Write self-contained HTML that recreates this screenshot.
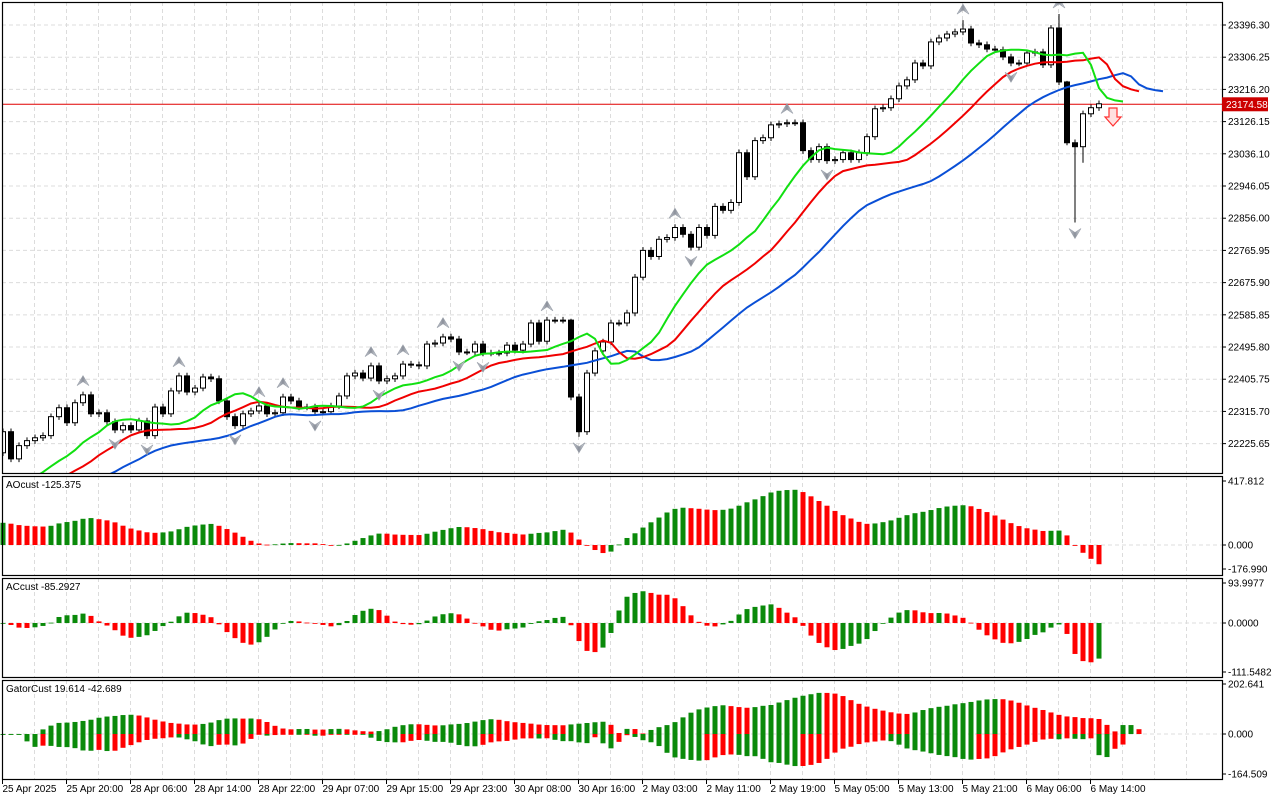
<!DOCTYPE html>
<html><head><meta charset="utf-8"><style>
html,body{margin:0;padding:0;background:#fff;}
svg{display:block;font-family:"Liberation Sans",sans-serif;}
text{font-size:10px;fill:#000;}
</style></head><body>
<svg id="chart" width="1280" height="800" viewBox="0 0 1280 800" xmlns="http://www.w3.org/2000/svg">
<defs>
<clipPath id="mainClip"><rect x="2" y="2" width="1220" height="471"/></clipPath>
<linearGradient id="fg" x1="0" y1="0" x2="1" y2="0"><stop offset="0" stop-color="#c8ccd4"/><stop offset="0.5" stop-color="#8a8f99"/><stop offset="1" stop-color="#e0e3e8"/></linearGradient>
</defs>
<g id="grid"></g>
<g id="main" clip-path="url(#mainClip)"></g>
<g id="sub"></g>
<g id="frames"></g>
<g id="axes"></g>
<text x="6" y="488">AOcust -125.375</text>
<text x="6" y="590">ACcust -85.2927</text>
<text x="6" y="692">GatorCust 19.614 -42.689</text>
</svg>
<script>
// ---- data ----
const closes=[22259,22183,22220,22234,22242,22248,22301,22326,22284,22340,22362,22309,22312,22287,22264,22276,22264,22289,22248,22328,22309,22373,22415,22370,22381,22412,22407,22345,22301,22276,22309,22317,22331,22309,22312,22356,22345,22328,22328,22315,22315,22331,22359,22415,22423,22409,22443,22401,22407,22415,22448,22446,22443,
22504,22507,22524,22518,22482,22482,22504,22479,22479,22479,22501,22487,22504,22563,22512,22571,22571,22571,22356,22259,22423,22485,22510,22563,22563,22591,22691,22766,22749,22797,22802,22830,22811,22775,22830,22808,22889,22878,22900,23039,22972,23073,23081,23117,23120,23123,23123,23045,23020,23056,23017,23020,23039,23020,23039,23084,23162,23165,23190,23226,23243,23290,23282,23349,23360,23371,23377,23385,23346,23341,23329,23327,23307,23290,23290,23318,23321,23285,23388,23237,23067,23056,23148,23165,23176];
const firstOpen=22200;
const highOverrides={71:22575,120:23410,131:23396,132:23427,133:23240};
const lowOverrides={72:22245,133:23060,134:22844,135:23011};
const priceTicks=["23396.30","23306.25","23216.20","23126.15","23036.10","22946.05","22856.00","22765.95","22675.90","22585.85","22495.80","22405.75","22315.70","22225.65"];
const timeLabels=["25 Apr 2025","25 Apr 20:00","28 Apr 06:00","28 Apr 14:00","28 Apr 22:00","29 Apr 07:00","29 Apr 15:00","29 Apr 23:00","30 Apr 08:00","30 Apr 16:00","2 May 03:00","2 May 11:00","2 May 19:00","5 May 05:00","5 May 13:00","5 May 21:00","6 May 06:00","6 May 14:00"];
const currentPrice=23174.58;
const prehistory=22080;
const wick=9;

// ---- scales ----
const NS="http://www.w3.org/2000/svg";
const xB=i=>3+8*i;
const yP=p=>25+(23396.3-p)*0.3576;
const yAO=v=>545-v*0.153;
const yAC=v=>623-v*0.4255;
const yG=v=>734-v*0.2467;
function mk(tag,attrs,parent){const e=document.createElementNS(NS,tag);for(const k in attrs)e.setAttribute(k,attrs[k]);parent.appendChild(e);return e;}
const G=id=>document.getElementById(id);
const n=closes.length;
const opens=closes.map((c,i)=>i===0?firstOpen:closes[i-1]);
const highs=closes.map((c,i)=>highOverrides[i]!==undefined?highOverrides[i]:Math.max(c,opens[i])+wick);
const lows=closes.map((c,i)=>lowOverrides[i]!==undefined?lowOverrides[i]:Math.min(c,opens[i])-wick);
const med=highs.map((h,i)=>(h+lows[i])/2);

// ---- grid ----
const grid=G('grid');
for(let k=0;k<38;k++){const x=2.5+32*k;if(x>1221)break;
 [[2,473],[476,575],[578,677],[680,779]].forEach(r=>{
  const l=mk('line',{x1:x,x2:x,y1:r[0],y2:r[1],stroke:'#dcdcdc','stroke-dasharray':'4,3'},grid);
  });}
priceTicks.forEach(t=>{const y=yP(parseFloat(t));const l=mk('line',{x1:2,x2:1222,y1:y,y2:y,stroke:'#dcdcdc','stroke-dasharray':'4,3'},grid);
 });
[545,623,734].forEach(y=>{const l=mk('line',{x1:2,x2:1222,y1:y,y2:y,stroke:'#dcdcdc','stroke-dasharray':'4,3'},grid);
 });

// ---- indicators ----
function smma(N){const out=[];let p=prehistory;for(let i=0;i<n;i++){p=(p*(N-1)+med[i])/N;out.push(p);}return out;}
function sma(arr,N,seed){return arr.map((v,i)=>{let s=0;for(let j=i-N+1;j<=i;j++)s+=j<0?seed:arr[j];return s/N;});}
const jaw=smma(13),teeth=smma(8),lips=smma(5);
const main=G('main');
const pl=mk('line',{x1:2,x2:1222,y1:yP(currentPrice),y2:yP(currentPrice),stroke:'#e00000','stroke-width':1},main);

for(let i=0;i<n;i++){const x=xB(i),o=opens[i],c=closes[i];const g=mk('g',{},main);
 
 mk('line',{x1:x,x2:x,y1:yP(highs[i]),y2:yP(lows[i]),stroke:'#000'},g);
 const top=yP(Math.max(o,c)),bot=yP(Math.min(o,c));
 mk('rect',{x:x-2.5,y:top,width:5,height:Math.max(1,bot-top),fill:c>=o?'#fff':'#000',stroke:'#000','stroke-width':1},g);}
function line(vals,shift,color,name){let d='';vals.forEach((v,i)=>{d+=(i?'L':'M')+xB(i+shift)+','+yP(v).toFixed(1);});
 const p=mk('path',{d:d,fill:'none',stroke:color,'stroke-width':2},main);
 }
line(jaw,8,'#0a4fd6','alligator-jaw');
line(teeth,5,'#f00000','alligator-teeth');
line(lips,3,'#11e011','alligator-lips');
for(let i=2;i<n-2;i++){
 if(highs[i]>highs[i-1]&&highs[i]>highs[i-2]&&highs[i]>=highs[i+1]&&highs[i]>=highs[i+2]){
  const x=xB(i),y=yP(highs[i])-6;
  const a=mk('path',{d:`M${x},${y-10}L${x+6},${y}L${x},${y-4}L${x-6},${y}Z`,fill:'url(#fg)',stroke:'#9aa0aa','stroke-width':0.6},main);
  }
 if(lows[i]<lows[i-1]&&lows[i]<lows[i-2]&&lows[i]<=lows[i+1]&&lows[i]<=lows[i+2]){
  const x=xB(i),y=yP(lows[i])+6;
  const a=mk('path',{d:`M${x},${y+10}L${x+6},${y}L${x},${y+4}L${x-6},${y}Z`,fill:'url(#fg)',stroke:'#9aa0aa','stroke-width':0.6},main);
  }}
const sa=mk('path',{d:'M1109,108H1117V117H1121L1113,126L1105,117H1109Z',fill:'#ffe0e0',stroke:'#ff3030','stroke-width':1.2},main);


// AO / AC
const sma5=sma(med,5,med[0]),sma34=sma(med,34,prehistory);
const ao=sma5.map((v,i)=>v-sma34[i]);
const aoS=sma(ao,5,ao[0]);
const ac=ao.map((v,i)=>v-aoS[i]);
const sub=G('sub');
function trendBars(vals,yf,name){vals.forEach((v,i)=>{const x=xB(i);const y0=yf(0),y1=yf(v);
 const up=i===0||v>vals[i-1];
 const r=mk('rect',{x:x-2.5,y:Math.min(y0,y1),width:5,height:Math.max(0.8,Math.abs(y1-y0)),fill:up?'#0a8a0a':'#ff0000'},sub);
 });}
trendBars(ao,yAO,'ao-bar');
trendBars(ac,yAC,'ac-bar');
// Gator
const val=(arr,k)=>k<0?prehistory:arr[k];
const upper=[],lower=[];
for(let b=0;b<n+5;b++){const j=b-8,t=b-5,l=b-3;
 upper.push(t<n?Math.abs(val(jaw,j)-val(teeth,t)):null);
 lower.push(l<n?-Math.abs(val(teeth,t)-val(lips,l)):null);}
function gatorBars(vals,name){vals.forEach((v,i)=>{if(v===null)return;const x=xB(i);const y0=yG(0),y1=yG(v);
 const p=vals[i-1];const up=p===null||p===undefined||Math.abs(v)>=Math.abs(p);
 const r=mk('rect',{x:x-2.5,y:Math.min(y0,y1),width:5,height:Math.max(0.8,Math.abs(y1-y0)),fill:up?'#0a8a0a':'#ff0000'},sub);
 });}
gatorBars(upper,'gator-upper-bar');
gatorBars(lower,'gator-lower-bar');

// frames
const fr=G('frames');
[[2,2,1220,471],[2,476,1220,99],[2,578,1220,99],[2,680,1220,99]].forEach(r=>{
 const e=mk('rect',{x:r[0]+0.5,y:r[1]+0.5,width:r[2],height:r[3],fill:'none',stroke:'#000','stroke-width':1.2},fr);
 });

// axes
const ax=G('axes');
priceTicks.forEach(t=>{const y=yP(parseFloat(t));mk('line',{x1:1222,x2:1226,y1:y,y2:y,stroke:'#000'},ax);
 const tx=mk('text',{x:1228,y:y+3.5},ax);tx.textContent=t;
 });
[[481,'417.812'],[545,'0.000'],[569,'-176.990'],[583,'93.9977'],[623,'0.0000'],[672,'-111.5482'],[684,'202.641'],[734,'0.000'],[774,'-164.509']].forEach(a=>{
 mk('line',{x1:1222,x2:1226,y1:a[0],y2:a[0],stroke:'#000'},ax);
 const tx=mk('text',{x:1228,y:a[0]+3.5},ax);tx.textContent=a[1];
 });
const pb=mk('rect',{x:1222,y:yP(currentPrice)-7,width:46,height:14,fill:'#cc0000'},ax);

const pt=mk('text',{x:1226,y:yP(currentPrice)+3.5,style:'fill:#fff'},ax);pt.textContent=currentPrice.toFixed(2);

timeLabels.forEach((t,k)=>{const x=2.5+64*k;mk('line',{x1:x,x2:x,y1:779,y2:784,stroke:'#000'},ax);
 const tx=mk('text',{x:x,y:792},ax);tx.textContent=t;
 });
</script>
</body></html>
